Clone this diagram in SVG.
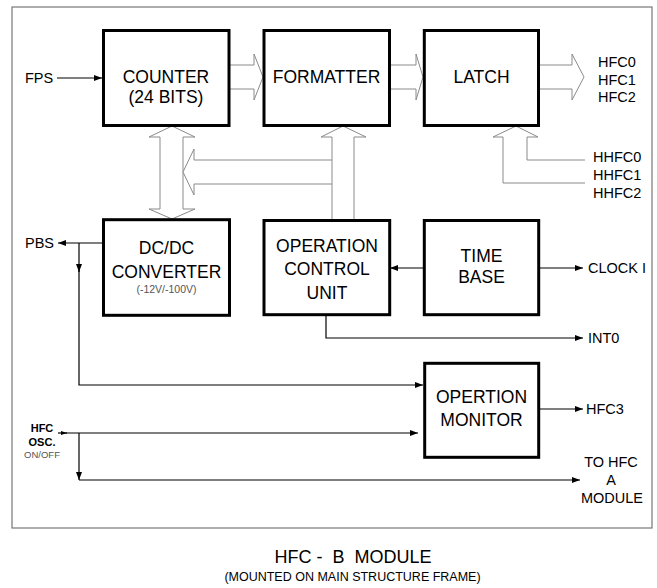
<svg xmlns="http://www.w3.org/2000/svg" width="657" height="588" viewBox="0 0 657 588">
<defs>
<style>
text{font-family:"Liberation Sans",Arial,sans-serif;fill:#000}
.big{font-size:17.5px;text-anchor:middle}
.lbl{font-size:14.5px}
.box{fill:#fff;stroke:#000;stroke-width:3}
.bus{fill:#fff;stroke:#8a8a8a;stroke-width:1}
.wire{fill:none;stroke:#000;stroke-width:1.2}
.frame{fill:#fff;stroke:#777;stroke-width:1.2}
</style>
<marker id="ah" viewBox="0 0 8 6" markerWidth="8" markerHeight="6" refX="8" refY="3" orient="auto" markerUnits="userSpaceOnUse"><path d="M0,0 L8,3 L0,6 z" fill="#000"/></marker>
<marker id="ahs" viewBox="0 0 6 4" markerWidth="6" markerHeight="4" refX="6" refY="2" orient="auto" markerUnits="userSpaceOnUse"><path d="M0,0 L6,2 L0,4 z" fill="#000"/></marker>
</defs>
<rect class="frame" x="12" y="7" width="640" height="521"/>

<g id="buses">
<polygon class="bus" points="229,65 254,65 254,54 263,77 254,100 254,89 229,89"/>
<polygon class="bus" points="390,65 416,65 416,54 423,77 416,100 416,89 390,89"/>
<polygon class="bus" points="539,65 572,65 572,54 584,77 572,100 572,89 539,89"/>
<polygon class="bus" points="172,126 195,137 183,137 183,209 195,209 172,219 149,209 160,209 160,137 149,137"/>
<polyline class="bus" points="332,160 194,160 194,149 183,172 194,195 194,184 332,184"/>
<polygon class="bus" points="343,126 366,137 354,137 354,220 332,220 332,137 321,137"/>
<polyline class="bus" points="585,183 503,183 503,137 493,137 516,126 538,137 527,137 527,160 585,160"/>
</g>

<g id="connectors">
<path class="wire" d="M57,78 H102" marker-end="url(#ah)"/>
<path class="wire" d="M103,243 H58" marker-end="url(#ah)"/>
<path class="wire" d="M79,243 V272" marker-end="url(#ah)"/>
<path class="wire" d="M79,270 V385 H423" marker-end="url(#ah)"/>
<path class="wire" d="M423,268 H390" marker-end="url(#ah)"/>
<path class="wire" d="M539,268 H583" marker-end="url(#ah)"/>
<path class="wire" d="M326,316 V338 H583" marker-end="url(#ah)"/>
<path class="wire" d="M539,409 H583" marker-end="url(#ah)"/>
<path class="wire" d="M58,433 H67" marker-end="url(#ahs)"/>
<path class="wire" d="M66,433 H418" marker-end="url(#ah)"/>
<path class="wire" d="M79,433 V480" marker-end="url(#ah)"/>
<path class="wire" d="M79,480 H580" marker-end="url(#ah)"/>
</g>

<g id="counter">
<rect class="box" x="103.5" y="30.5" width="125.5" height="95"/>
<text class="big" x="166" y="83.3">COUNTER</text>
<text class="big" x="166" y="103">(24 BITS)</text>
</g>
<g id="formatter">
<rect class="box" x="264" y="30.5" width="125.5" height="95"/>
<text class="big" x="326.5" y="83.3">FORMATTER</text>
</g>
<g id="latch">
<rect class="box" x="424.3" y="30.5" width="114.2" height="95"/>
<text class="big" x="481.5" y="83.3">LATCH</text>
</g>
<g id="dcdc">
<rect class="box" x="103.5" y="219.7" width="126" height="95.6"/>
<text class="big" x="166.5" y="254">DC/DC</text>
<text class="big" x="166.5" y="277.5">CONVERTER</text>
<text x="166.5" y="293" style="font-size:10.5px;text-anchor:middle;fill:#555">(-12V/-100V)</text>
</g>
<g id="ocu">
<rect class="box" x="264" y="220.5" width="125.7" height="94.2"/>
<text class="big" x="327" y="251.5">OPERATION</text>
<text class="big" x="327" y="275">CONTROL</text>
<text class="big" x="327" y="298.5">UNIT</text>
</g>
<g id="timebase">
<rect class="box" x="424.3" y="220.5" width="114.4" height="94.2"/>
<text class="big" x="481.5" y="261.5">TIME</text>
<text class="big" x="481.5" y="283">BASE</text>
</g>
<g id="monitor">
<rect class="box" x="424.7" y="363.3" width="114" height="94"/>
<text class="big" x="481.5" y="403">OPERTION</text>
<text class="big" x="481.5" y="426">MONITOR</text>
</g>

<g id="labels">
<text class="lbl" x="25" y="82.5">FPS</text>
<text class="lbl" x="598" y="67">HFC0</text>
<text class="lbl" x="598" y="84.5">HFC1</text>
<text class="lbl" x="598" y="102">HFC2</text>
<text class="lbl" x="593" y="162">HHFC0</text>
<text class="lbl" x="593" y="180">HHFC1</text>
<text class="lbl" x="593" y="198">HHFC2</text>
<text class="lbl" x="25" y="248">PBS</text>
<text class="lbl" x="588" y="273">CLOCK I</text>
<text class="lbl" x="588" y="343">INT0</text>
<text class="lbl" x="586" y="414">HFC3</text>
<text x="42" y="432" style="font-size:11px;font-weight:bold;text-anchor:middle">HFC</text>
<text x="42" y="445.5" style="font-size:11px;font-weight:bold;text-anchor:middle">OSC.</text>
<text x="42" y="458" style="font-size:9.5px;text-anchor:middle;fill:#555">ON/OFF</text>
<text class="lbl" x="611" y="467" text-anchor="middle">TO HFC</text>
<text class="lbl" x="611" y="485" text-anchor="middle">A</text>
<text class="lbl" x="612" y="503" text-anchor="middle">MODULE</text>
<text x="353" y="563" style="font-size:18px;text-anchor:middle;white-space:pre">HFC -  B  MODULE</text>
<text x="352.5" y="581" style="font-size:12.5px;text-anchor:middle">(MOUNTED ON MAIN STRUCTURE FRAME)</text>
</g>
</svg>
